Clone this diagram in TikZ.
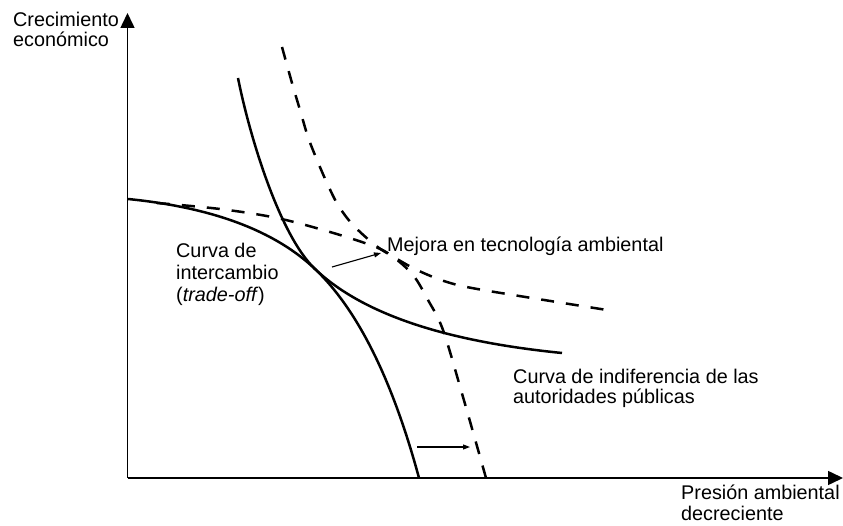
\documentclass[tikz,border=0pt]{standalone}
\usepackage{fontspec}
\setmainfont{Liberation Sans}
\usetikzlibrary{arrows.meta}
\begin{document}
\begin{tikzpicture}[x=1pt,y=-1pt,
  curve/.style={line width=2.5pt, line join=round},
  dashedcurve/.style={curve, dash pattern=on 13pt off 12pt},
  axis/.style={line width=1.5pt, -{Triangle[length=15pt,width=14pt]}},
  shiftarrow/.style={line width=1.1pt, -{Triangle[length=7pt,width=5pt]}},
  lbl/.style={anchor=base west, inner sep=0pt, align=left, font=\fontsize{19.8}{20.5}\selectfont}]
\useasboundingbox (0,0) rectangle (843,526);
% axes
\coordinate (O) at (127.5,478);
\coordinate (ytip) at (127.5,13);
\coordinate (xtip) at (843,478);
\draw[axis] (O) -- (ytip);
\draw[axis] (O) -- (xtip);
% trade-off curve (solid)
\draw[curve] (128,199) .. controls (213,207.5) and (275,231) .. (315,269)
  .. controls (360,311.75) and (394,385.5) .. (419,478);
% indifference curve (solid)
\draw[curve] (238,78) .. controls (250,138) and (280,235.75) .. (315,269)
  .. controls (365,316.5) and (452,342) .. (562,353);
% shifted trade-off (dashed)
\draw[dashedcurve] plot[smooth, tension=0.55] coordinates {(157,203) (220,209) (277,218) (330,232) (373,246) (392,256) (413,275) (428,300) (443,330) (463,397) (486,478)};
% shifted indifference (dashed)
\draw[dashedcurve] plot[smooth, tension=0.55] coordinates {(282,47) (292,83) (300,110) (308,137) (317,160) (327,183) (338,205) (353,225) (375,245) (392,256) (417,270) (447,282) (483,290) (607,310)};
% shift arrows
\coordinate (a1s) at (332,267);
\coordinate (a1e) at (381,253);
\coordinate (a2s) at (417,447);
\coordinate (a2e) at (470,447);
\draw[shiftarrow] (a1s) -- (a1e);
\draw[shiftarrow] (a2s) -- (a2e);
% labels
\node[lbl] (ylab) at (13,47) {Crecimiento\\económico};
\node[lbl] (xlab) at (681,520) {Presión ambiental\\decreciente};
\node[lbl, font=\fontsize{19.8}{22}\selectfont] (tlab) at (176,302) {Curva de\\intercambio\\(\textit{trade-off})};
\node[lbl] (mlab) at (387,252) {Mejora en tecnología ambiental};
\node[lbl, font=\fontsize{19.8}{20}\selectfont] (ilab) at (513,403) {Curva de indiferencia de las\\autoridades públicas};
\end{tikzpicture}
\end{document}
